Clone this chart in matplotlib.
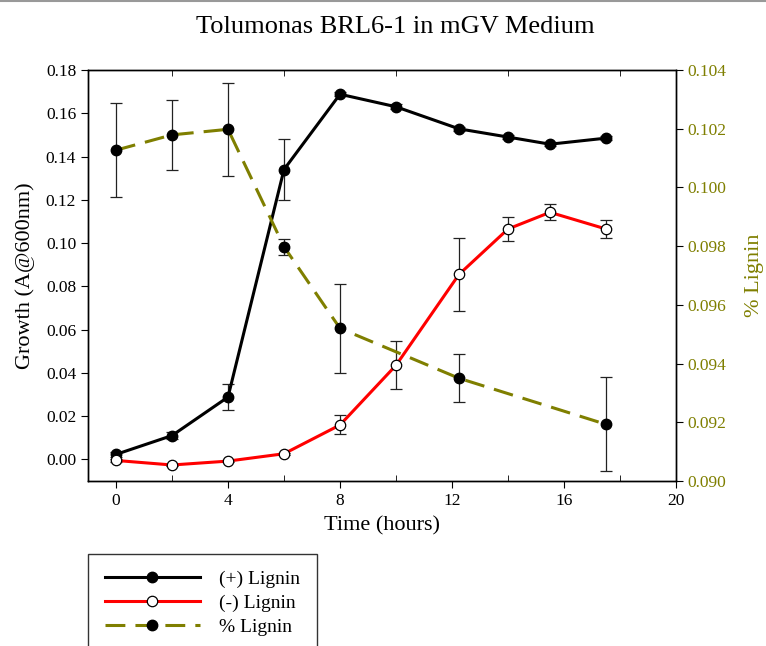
import matplotlib
matplotlib.use('Agg')
import matplotlib.pyplot as plt
from matplotlib.lines import Line2D
import numpy as np

plt.rcParams['font.family'] = ['Liberation Serif', 'DejaVu Serif']
plt.rcParams['mathtext.fontset'] = 'stix'

# (+) Lignin growth
t_plus = [0, 2, 4, 6, 8, 10, 12.25, 14, 15.5, 17.5]
g_plus = [0.0023, 0.011, 0.0288, 0.134, 0.1688, 0.163, 0.1528, 0.149, 0.1457, 0.1485]
e_plus = [0.001, 0.0015, 0.006, 0.014, 0.0008, 0.0012, 0.0008, 0.0008, 0.0008, 0.001]

# (-) Lignin growth
t_minus = [0, 2, 4, 6, 8, 10, 12.25, 14, 15.5, 17.5]
g_minus = [-0.0005, -0.0026, -0.0008, 0.0026, 0.0159, 0.0435, 0.0855, 0.1065, 0.1142, 0.1065]
e_minus = [0.0008, 0.0005, 0.0005, 0.0005, 0.0044, 0.011, 0.0168, 0.0055, 0.0037, 0.004]

# % Lignin
t_lig = [0, 2, 4, 6, 8, 12.25, 17.5]
p_lig = [0.10127, 0.10179, 0.10198, 0.09798, 0.09520, 0.09350, 0.09193]
e_lig = [0.00161, 0.0012, 0.00159, 0.00028, 0.00152, 0.00082, 0.0016]

olive = '#7f7f00'
fig = plt.figure(figsize=(7.66, 6.46), dpi=100)
ax = fig.add_axes([88/766, 1-481/646, (676-88)/766, (481-70)/646])

ebk = dict(ecolor='#222222', elinewidth=0.9, capsize=4.5, capthick=0.9, zorder=2)
ax.errorbar(t_plus, g_plus, yerr=e_plus, fmt='none', **ebk)
ax.errorbar(t_minus, g_minus, yerr=e_minus, fmt='none', **ebk)
l1, = ax.plot(t_plus, g_plus, '-', color='black', lw=2.2, marker='o', ms=7.5,
              mfc='black', mec='black', zorder=3)
l2, = ax.plot(t_minus, g_minus, '-', color='red', lw=2.2, marker='o', ms=7.5,
              mfc='white', mec='black', mew=0.9, zorder=3)

ax.set_xlim(-1, 20)
ax.set_ylim(-0.01, 0.18)
ax.set_xticks(np.arange(0, 21, 4))
ax.set_xticks(np.arange(2, 20, 4), minor=True)
ax.set_yticks(np.arange(0, 0.181, 0.02))
ax.set_yticklabels(['%.2f' % v for v in np.arange(0, 0.181, 0.02)])
ax.tick_params(axis='x', which='major', direction='out', length=5, labelsize=12.5, top=False)
ax.tick_params(axis='x', which='minor', direction='in', length=4, top=True, bottom=True)
ax.tick_params(axis='y', direction='out', length=5, labelsize=12.5)
ax.set_xlabel('Time (hours)', fontsize=16, labelpad=5)
ax.set_ylabel('Growth (A@600nm)', fontsize=16, labelpad=8)

ax2 = ax.twinx()
ax2.errorbar(t_lig, p_lig, yerr=e_lig, fmt='none', **ebk)
l3, = ax2.plot(t_lig, p_lig, '--', color=olive, lw=2.2, dashes=(6.5, 3.3),
               marker='o', ms=7.5, mfc='black', mec='black', zorder=3)
ax2.set_ylim(0.090, 0.104)
ax2.set_yticks(np.arange(0.090, 0.1041, 0.002))
ax2.set_yticklabels(['%.3f' % v for v in np.arange(0.090, 0.1041, 0.002)])
ax2.tick_params(axis='y', direction='out', length=5, labelsize=12.5, labelcolor=olive)
ax2.set_ylabel('% Lignin', fontsize=16, color=olive, labelpad=13)

for a in (ax, ax2):
    for s in a.spines.values():
        s.set_linewidth(1.0)

fig.text(395/766, 1-27/646, 'Tolumonas BRL6-1 in mGV Medium', fontsize=19,
         ha='center', va='center')

leg = fig.legend([l1, l2, l3], ['(+) Lignin', '(-) Lignin', '% Lignin'],
                 loc='upper left', bbox_to_anchor=(88/766, 1-554/646),
                 fontsize=14, frameon=True, fancybox=False, edgecolor='black',
                 handlelength=4.9, handletextpad=1.0, borderpad=0.85,
                 labelspacing=0.32, borderaxespad=0)
leg.get_frame().set_linewidth(1.0)

fig.add_artist(Line2D([0, 1], [0.998, 0.998], color='#999999', lw=1.5))

fig.savefig('out.png', dpi=100)
